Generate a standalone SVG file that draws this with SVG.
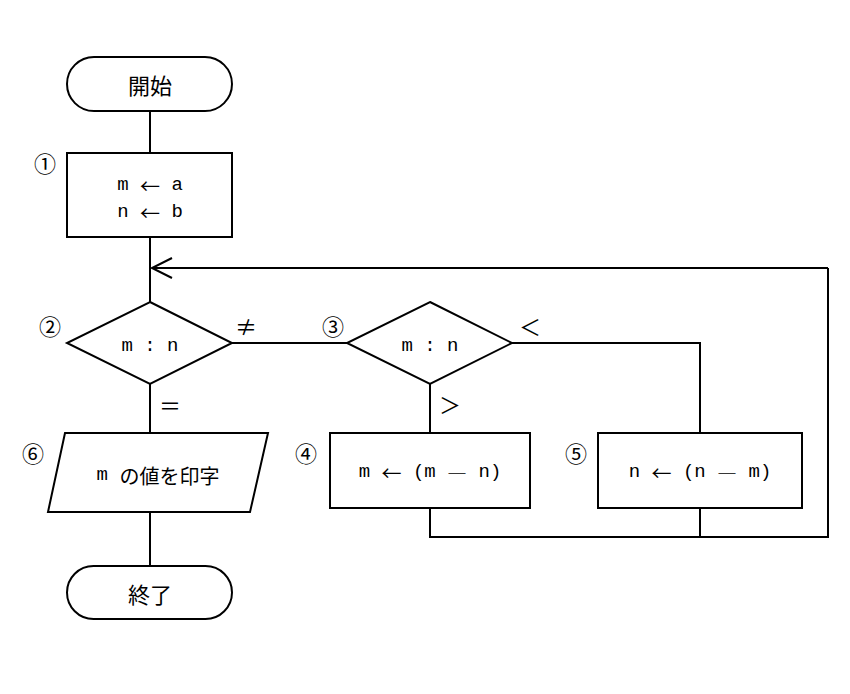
<svg xmlns="http://www.w3.org/2000/svg" width="850" height="694" viewBox="0 0 850 694">
<style>
.s{fill:#fff;stroke:#000;stroke-width:2}
.l{fill:none;stroke:#000;stroke-width:2}
text{font-family:"Liberation Mono","Noto Sans CJK JP",monospace;font-size:19px;fill:#000;text-anchor:middle;dominant-baseline:central}
.n{font-family:"Noto Sans CJK JP","DejaVu Sans",sans-serif;font-size:22px}
.c{font-family:"Noto Sans CJK JP",sans-serif;font-size:20px}
</style>
<rect width="850" height="694" fill="#fff"/>
<g id="connectors">
<path class="l" d="M150 111V153M150 237V302M828 268H152M150 384V433M150 512V566M232 343H347M512 343H700V433M430 384V433M430 508V537H828V268M700 508V537"/>
<path class="l" d="M172 258L152 268L172 278"/>
</g>
<g id="start"><rect class="s" x="67" y="57" width="165" height="54" rx="27"/><text x="150" y="84" class="n">開始</text></g>
<g id="n1"><rect class="s" x="67" y="153" width="165" height="84"/><text x="150" y="185">m <tspan class="c">←</tspan> a</text><text x="150" y="212">n <tspan class="c">←</tspan> b</text><text x="45" y="162" class="n">①</text></g>
<g id="n2"><path class="s" d="M150 302L232 343L150 384L67 343Z"/><text x="150" y="346">m : n</text><text x="50" y="325" class="n">②</text><text x="246" y="325" class="n">≠</text><text x="170" y="404" class="n">＝</text></g>
<g id="n3"><path class="s" d="M430 302L512 343L430 384L347 343Z"/><text x="430" y="346">m : n</text><text x="333" y="325" class="n">③</text><text x="530" y="325" class="n">＜</text><text x="450" y="403" class="n">＞</text></g>
<g id="n4"><rect class="s" x="330" y="433" width="200" height="75"/><text x="430" y="472">m <tspan class="c">←</tspan> (m <tspan class="c">―</tspan> n)</text><text x="306" y="452" class="n">④</text></g>
<g id="n5"><rect class="s" x="598" y="433" width="204" height="75"/><text x="700" y="472">n <tspan class="c">←</tspan> (n <tspan class="c">―</tspan> m)</text><text x="576" y="452" class="n">⑤</text></g>
<g id="n6"><path class="s" d="M65 433H268L250 512H48Z"/><text x="158" y="475">m <tspan class="c">の値を印字</tspan></text><text x="33" y="452" class="n">⑥</text></g>
<g id="end"><rect class="s" x="67" y="566" width="165" height="53" rx="26.5"/><text x="150" y="593" class="n">終了</text></g>
</svg>
